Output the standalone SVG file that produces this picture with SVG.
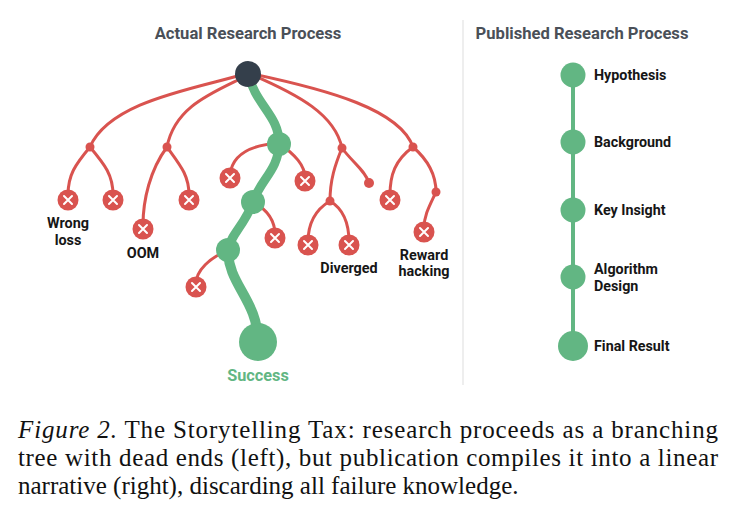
<svg xmlns="http://www.w3.org/2000/svg" width="735" height="520" viewBox="0 0 735 520">
<style>
.title{font-family:Roboto,"Liberation Sans",sans-serif;font-weight:bold;font-size:16.6px;fill:#4a5058;text-anchor:middle}
.lab{font-family:Roboto,"Liberation Sans",sans-serif;font-weight:bold;font-size:14.4px;fill:#161616;text-anchor:middle}
.rlab{font-family:Roboto,"Liberation Sans",sans-serif;font-weight:bold;font-size:14.3px;fill:#161616}
.red{fill:none;stroke:#d9534f;stroke-width:3;stroke-linecap:round}
.grn{fill:none;stroke:#62b683;stroke-linecap:round}
.dot{fill:#d9534f}
.xc{fill:#d9534f}
.xm{stroke:#fff;stroke-width:2;stroke-linecap:round}
.gn{fill:#62b683}
.cap{font-family:"Liberation Serif","Times New Roman",serif;font-size:25px;fill:#111}
</style>
<defs>
<g id="xnode"><circle r="10.5" class="xc"/><path class="xm" d="M-4,-4L4,4M4,-4L-4,4"/></g>
</defs>
<text class="title" x="248" y="39">Actual Research Process</text>
<text class="title" x="582" y="39">Published Research Process</text>
<line x1="463" y1="20" x2="463" y2="385" stroke="#e8e8e8" stroke-width="1.5"/>
<g id="connectors">
<path class="red" d="M248,73 C200,88 110,100 90,147"/>
<path class="red" d="M248,75 C215,92 175,105 167,147"/>
<path class="red" d="M90,147 C75,165 68,175 68,195"/>
<path class="red" d="M90,147 C105,165 113,175 113,195"/>
<path class="red" d="M167,147 C150,170 143,200 143,225"/>
<path class="red" d="M167,147 C180,165 189,175 189,195"/>
<path class="red" d="M279,143 C250,145 232,155 230,175"/>
<path class="red" d="M279,143 C295,155 305,165 305,178"/>
<path class="red" d="M248,73 C300,95 335,115 342,148"/>
<path class="red" d="M248,73 C330,90 400,110 413,147"/>
<path class="red" d="M342,148 C352,162 365,170 369,183"/>
<path class="red" d="M342,148 C335,165 330,180 330,201"/>
<path class="red" d="M330,201 C315,210 308,225 308,242"/>
<path class="red" d="M330,201 C345,210 349,225 349,242"/>
<path class="red" d="M413,147 C395,160 390,175 390,195"/>
<path class="red" d="M413,147 C428,160 436,175 436,192"/>
<path class="red" d="M436,192 C430,205 424,215 424,228"/>
<path class="red" d="M253,202 C268,210 275,222 275,235"/>
<path class="red" d="M228,250 C210,258 196,270 196,284"/>
<path class="grn" stroke-width="9" d="M248,73 C255,105 279,115 279,143 C279,170 260,180 253,202 C245,225 230,235 228,250"/>
<path class="grn" stroke-width="10" d="M228,250 C228,285 258,300 258,342"/>
<line x1="573" y1="75" x2="573" y2="346" stroke="#62b683" stroke-width="4"/>
</g>
<g id="root"><circle cx="248" cy="74" r="13" fill="#343f4b"/></g>
<g id="b1"><circle cx="90" cy="147" r="4.5" class="dot"/></g>
<g id="b2"><circle cx="167" cy="147" r="4.5" class="dot"/></g>
<g id="b3"><circle cx="342" cy="148" r="4.5" class="dot"/></g>
<g id="b4"><circle cx="330" cy="201" r="4.5" class="dot"/></g>
<g id="b5"><circle cx="369" cy="183" r="5" class="dot"/></g>
<g id="b6"><circle cx="413" cy="147" r="4.5" class="dot"/></g>
<g id="b7"><circle cx="436" cy="192" r="4.5" class="dot"/></g>
<g id="x1"><use href="#xnode" x="68" y="200"/><text class="lab" x="68" y="228">Wrong</text><text class="lab" x="68" y="245">loss</text></g>
<g id="x2"><use href="#xnode" x="113" y="200"/></g>
<g id="x3"><use href="#xnode" x="143" y="229"/><text class="lab" x="143" y="258">OOM</text></g>
<g id="x4"><use href="#xnode" x="189" y="200"/></g>
<g id="x5"><use href="#xnode" x="230" y="178"/></g>
<g id="x6"><use href="#xnode" x="305" y="181"/></g>
<g id="x7"><use href="#xnode" x="275" y="238"/></g>
<g id="x8"><use href="#xnode" x="196" y="287"/></g>
<g id="x9"><use href="#xnode" x="308" y="245"/></g>
<g id="x10"><use href="#xnode" x="349" y="245"/><text class="lab" x="349" y="273">Diverged</text></g>
<g id="x11"><use href="#xnode" x="390" y="200"/></g>
<g id="x12"><use href="#xnode" x="424" y="232"/><text class="lab" x="424" y="260">Reward</text><text class="lab" x="424" y="276">hacking</text></g>
<g id="g1"><circle cx="279" cy="144" r="12" class="gn"/></g>
<g id="g2"><circle cx="253" cy="202" r="12" class="gn"/></g>
<g id="g3"><circle cx="228" cy="250" r="12" class="gn"/></g>
<g id="success"><circle cx="258" cy="342" r="19" class="gn"/><text x="258" y="381" text-anchor="middle" font-family="Roboto,'Liberation Sans',sans-serif" font-weight="bold" font-size="16.3" fill="#62b683">Success</text></g>
<g id="p1"><circle cx="573" cy="75" r="12.5" class="gn"/><text class="rlab" x="594" y="80">Hypothesis</text></g>
<g id="p2"><circle cx="573" cy="142" r="12.5" class="gn"/><text class="rlab" x="594" y="147">Background</text></g>
<g id="p3"><circle cx="573" cy="210" r="12.5" class="gn"/><text class="rlab" x="594" y="215">Key Insight</text></g>
<g id="p4"><circle cx="573" cy="277" r="12.5" class="gn"/><text class="rlab" x="594" y="274">Algorithm</text><text class="rlab" x="594" y="291">Design</text></g>
<g id="p5"><circle cx="573" cy="346" r="15" class="gn"/><text class="rlab" x="594" y="351">Final Result</text></g>
<text class="cap" x="18" y="438" textLength="700" lengthAdjust="spacing"><tspan font-style="italic">Figure 2.</tspan> The Storytelling Tax: research proceeds as a branching</text>
<text class="cap" x="18" y="466" textLength="700" lengthAdjust="spacing">tree with dead ends (left), but publication compiles it into a linear</text>
<text class="cap" x="18" y="494">narrative (right), discarding all failure knowledge.</text>
</svg>
